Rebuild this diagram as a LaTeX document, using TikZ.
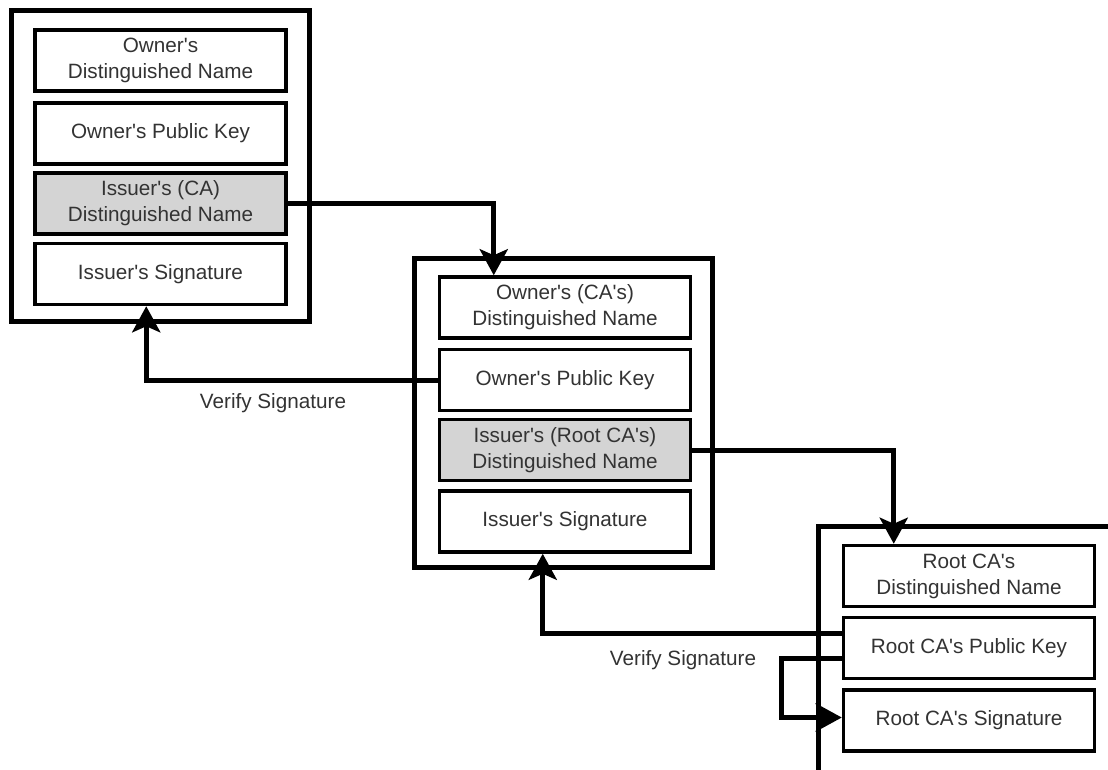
\documentclass[tikz,border=0pt]{standalone}
\usepackage{fontspec}
\setmainfont{Liberation Sans}[Ligatures=TeXOff]
\usetikzlibrary{arrows.meta,calc}
\begin{document}
\begin{tikzpicture}[x=1pt,y=-1pt,
  certframe/.style={draw=black,line width=5pt,line join=miter,inner sep=0pt},
  field/.style={draw=black,line width=3.5pt,line join=miter,fill=white,
    minimum width=251pt,minimum height=61pt,inner sep=0pt,align=center,
    font=\fontsize{20.7}{26}\selectfont,text=black!80},
  shaded/.style={field,fill=black!17},
  link/.style={draw=black,line width=5pt,line join=miter,
    -{Stealth[length=26pt,width=28pt,inset=6pt]}},
  note/.style={font=\fontsize{20.7}{26}\selectfont,text=black!80,inner sep=0pt}]
\useasboundingbox (0,0) rectangle (1108,769);
\clip (0,0) rectangle (1108,769);

% certificate frames
\node[certframe,minimum width=298pt,minimum height=311pt] (cert1) at (160,165.5) {};
\node[certframe,minimum width=298pt,minimum height=309pt] (cert2) at (563,412.5) {};
\node[certframe,minimum width=320pt,minimum height=300pt] (cert3) at (978,676) {};

% end-user certificate
\node[field]  (c1dn)  at (160.5,60.5)  {Owner's\\Distinguished Name};
\node[field]  (c1pk)  at (160.5,133.5) {Owner's Public Key};
\node[shaded] (c1is)  at (160.5,203.5) {Issuer's (CA)\\Distinguished Name};
\node[field]  (c1sig) at (160.5,274)   {Issuer's Signature};

% intermediate CA certificate
\node[field]  (c2dn)  at (565,307.5) {Owner's (CA's)\\Distinguished Name};
\node[field]  (c2pk)  at (565,380)   {Owner's Public Key};
\node[shaded] (c2is)  at (565,450)   {Issuer's (Root CA's)\\Distinguished Name};
\node[field]  (c2sig) at (565,521.5) {Issuer's Signature};

% root CA certificate
\node[field] (rdn)  at (969,576)   {Root CA's\\Distinguished Name};
\node[field] (rpk)  at (969,648)   {Root CA's Public Key};
\node[field] (rsig) at (969,720.5) {Root CA's Signature};

% issuer name chains
\draw[link] (c1is.east) -| ($(c2dn.north west)+(56,0)$);
\draw[link] (c2is.east) -| ($(rdn.north west)+(52,0)$);

% signature verification
\draw[link] (c2pk.west) -| ($(c1sig.south west)+(113,0)$);
\draw[link] ($(rpk.west)+(0,-15)$) -| ($(c2sig.south west)+(105,0)$);
\draw[link] ($(rpk.west)+(0,10)$) -- ++(-60,0) |- ($(rsig.west)+(0,-3)$);

\node[note] (v1) at (273,403) {Verify Signature};
\node[note] (v2) at (683,660) {Verify Signature};
\end{tikzpicture}
\end{document}
